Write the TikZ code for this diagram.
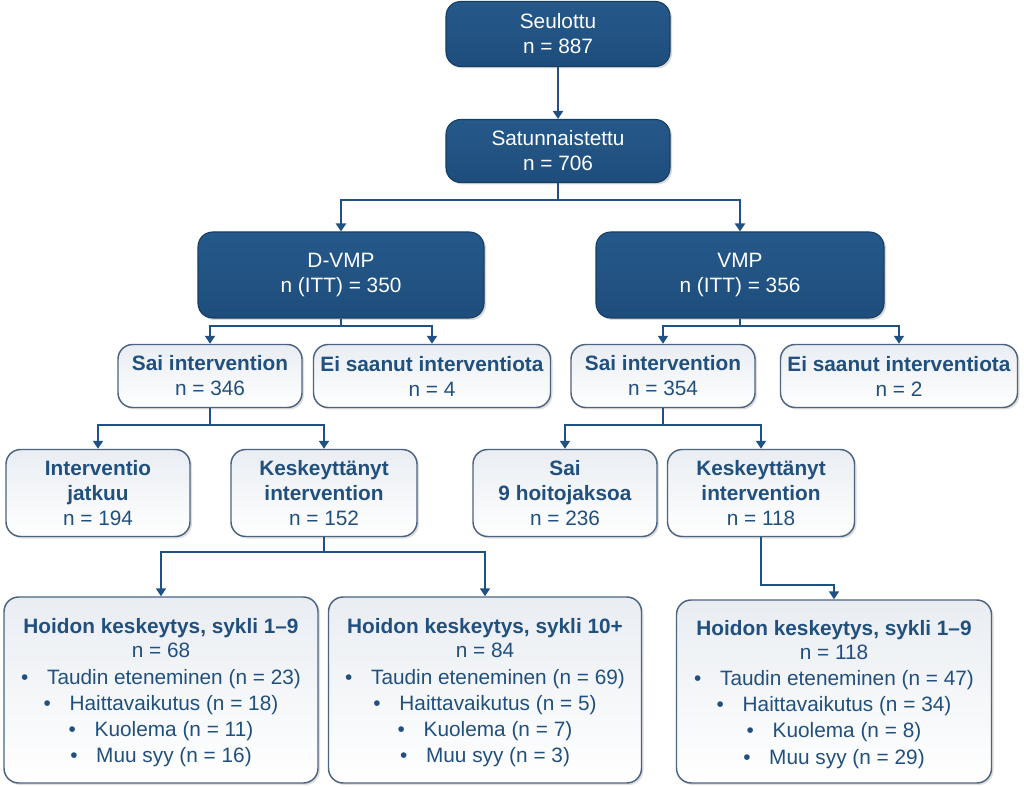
\documentclass[tikz,border=0pt]{standalone}
\usepackage{fontspec}
\setmainfont{Liberation Sans}
\usepackage{tikz}
\usetikzlibrary{positioning,shadows,arrows.meta}
\definecolor{navy}{HTML}{1E4D7C}
\definecolor{navytop}{HTML}{25598A}
\definecolor{navyedge}{HTML}{173D61}
\definecolor{linkblue}{HTML}{1F5283}
\definecolor{paleedge}{HTML}{4C6480}
\definecolor{paletop}{HTML}{E9EDF2}
\definecolor{paletext}{HTML}{21507E}

\begin{document}
\begin{tikzpicture}
   [x=0.75pt,y=-0.75pt,
    font=\fontsize{15.6}{18.75}\selectfont,
    darkbox/.style={rectangle,rounded corners=11pt,draw=navyedge,line width=0.8pt,
      top color=navytop,bottom color=navy,text=white,align=center,
      drop shadow={shadow xshift=1.5pt,shadow yshift=-1.5pt,opacity=0.3}},
    palebox/.style={rectangle,rounded corners=11pt,draw=paleedge,line width=1.1pt,
      top color=paletop,bottom color=white,text=paletext,align=center,
      drop shadow={shadow xshift=1.5pt,shadow yshift=-1.5pt,opacity=0.25}},
    link/.style={-{Triangle[width=7.5pt,length=6pt]},draw=linkblue,line width=1.5pt}]

\useasboundingbox (0,0) rectangle (1024,787);

% top of the flow
\node [darkbox,minimum width=168pt,minimum height=48.75pt] (seul) at (558,34)
  {Seulottu\\n = 887};
\node [darkbox,minimum width=168pt,minimum height=47.25pt] (satu) at (558,151)
  {Satunnaistettu\\n = 706};
\node [darkbox,minimum width=214.5pt,minimum height=64.5pt] (dvmp) at (341,275)
  {D-VMP\\n (ITT) = 350};
\node [darkbox,minimum width=216pt,minimum height=64.5pt] (vmp) at (740,275)
  {VMP\\n (ITT) = 356};

% received / not received
\node [palebox,minimum width=138pt,minimum height=47.25pt] (sai1) at (210,376)
  {\textbf{Sai intervention}\\n = 346};
\node [palebox,minimum width=177.75pt,minimum height=47.25pt] (ei1) at (432,376)
  {\textbf{Ei saanut interventiota}\\n = 4};
\node [palebox,minimum width=138pt,minimum height=47.25pt] (sai2) at (663,376)
  {\textbf{Sai intervention}\\n = 354};
\node [palebox,minimum width=177.75pt,minimum height=47.25pt] (ei2) at (899,376)
  {\textbf{Ei saanut interventiota}\\n = 2};

% third row
\node [palebox,minimum width=138pt,minimum height=65.25pt] (jatk) at (98,493)
  {\textbf{Interventio}\\\textbf{jatkuu}\\n = 194};
\node [palebox,minimum width=139.5pt,minimum height=65.25pt] (kesk1) at (324,493)
  {\textbf{Keskeyttänyt}\\\textbf{intervention}\\n = 152};
\node [palebox,minimum width=138pt,minimum height=65.25pt] (hoito) at (565,493)
  {\textbf{Sai}\\\textbf{9 hoitojaksoa}\\n = 236};
\node [palebox,minimum width=140.25pt,minimum height=65.25pt] (kesk2) at (761,493)
  {\textbf{Keskeyttänyt}\\\textbf{intervention}\\n = 118};

% discontinuation reasons
\node [palebox,minimum width=235.5pt,minimum height=139.5pt] (hk1) at (161,690)
  {\rule{0pt}{15.5pt}\textbf{Hoidon keskeytys, sykli 1–9}\\[-0.8pt]n = 68\\[1.2pt]
   \textbullet\hspace{0.9em}Taudin eteneminen (n = 23)\\[0.8pt]
   \textbullet\hspace{0.9em}Haittavaikutus (n = 18)\\[0.8pt]
   \textbullet\hspace{0.9em}Kuolema (n = 11)\\[0.8pt]
   \textbullet\hspace{0.9em}Muu syy (n = 16)};
\node [palebox,minimum width=234.75pt,minimum height=139.5pt] (hk2) at (485,690)
  {\rule{0pt}{15.5pt}\textbf{Hoidon keskeytys, sykli 10+}\\[-0.8pt]n = 84\\[1.2pt]
   \textbullet\hspace{0.9em}Taudin eteneminen (n = 69)\\[0.8pt]
   \textbullet\hspace{0.9em}Haittavaikutus (n = 5)\\[0.8pt]
   \textbullet\hspace{0.9em}Kuolema (n = 7)\\[0.8pt]
   \textbullet\hspace{0.9em}Muu syy (n = 3)};
\node [palebox,minimum width=236.25pt,minimum height=137.25pt] (hk3) at (834,691.5)
  {\rule{0pt}{15.5pt}\textbf{Hoidon keskeytys, sykli 1–9}\\[-0.8pt]n = 118\\[1.2pt]
   \textbullet\hspace{0.9em}Taudin eteneminen (n = 47)\\[0.8pt]
   \textbullet\hspace{0.9em}Haittavaikutus (n = 34)\\[0.8pt]
   \textbullet\hspace{0.9em}Kuolema (n = 8)\\[0.8pt]
   \textbullet\hspace{0.9em}Muu syy (n = 29)};

% connectors
\draw [link] (seul) -- (satu);
\draw [link] (satu.south) -- ++(0,17) -| (dvmp.north);
\draw [link] (satu.south) -- ++(0,17) -| (vmp.north);
\draw [link] (dvmp.south) -- ++(0,7) -| (sai1.north);
\draw [link] (dvmp.south) -- ++(0,7) -| (ei1.north);
\draw [link] (vmp.south) -- ++(0,7) -| (sai2.north);
\draw [link] (vmp.south) -- ++(0,7) -| (ei2.north);
\draw [link] (sai1.south) -- ++(0,17) -| (jatk.north);
\draw [link] (sai1.south) -- ++(0,17) -| (kesk1.north);
\draw [link] (sai2.south) -- ++(0,17) -| (hoito.north);
\draw [link] (sai2.south) -- ++(0,17) -| (kesk2.north);
\draw [link] (kesk1.south) -- ++(0,15) -| (hk1.north);
\draw [link] (kesk1.south) -- ++(0,15) -| (hk2.north);
\draw [link] (kesk2.south) -- ++(0,48) -| (hk3.north);
\end{tikzpicture}
\end{document}
